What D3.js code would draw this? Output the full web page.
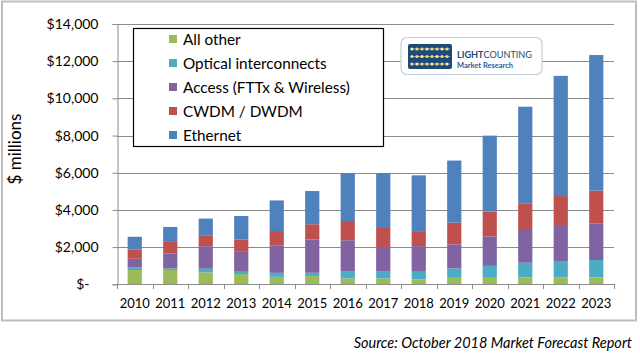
<!DOCTYPE html>
<html><head><meta charset="utf-8">
<script src="https://cdn.jsdelivr.net/npm/d3@7"></script>
<style>
html,body{margin:0;padding:0;background:#fff;}
svg{display:block;font-family:Lato,"Open Sans",sans-serif;}
</style></head>
<body><svg id="c" width="640" height="356"></svg>
<script>
const years = ["2010","2011","2012","2013","2014","2015","2016","2017","2018","2019","2020","2021","2022","2023"];
const allOther   = [770, 770, 640, 550, 400, 440, 320, 320, 270, 350, 350, 376, 376, 376];
const optical    = [145, 90, 195, 125, 215, 180, 390, 390, 405, 500, 640, 785, 840, 930];
const access     = [460, 800, 1215, 1070, 1485, 1790, 1660, 1270, 1380, 1300, 1590, 1760, 1970, 1975];
const cwdm       = [505, 620, 590, 665, 765, 820, 1035, 1050, 805, 1165, 1340, 1435, 1560, 1755];
const ethernet   = [675, 805, 895, 1265, 1645, 1785, 2575, 2950, 3000, 3340, 4075, 5195, 6465, 7295];
const seriesNames = ["All other","Optical interconnects","Access (FTTx & Wireless)","CWDM / DWDM","Ethernet"];
const seriesColors = ["#9BBB59","#4BACC6","#8064A2","#C0504D","#4F81BD"];
const yTicks = [0,2000,4000,6000,8000,10000,12000,14000];

const seriesData = [allOther, optical, access, cwdm, ethernet];
const rows = years.map((y,i)=>{const r={year:y}; seriesNames.forEach((n,k)=>r[n]=seriesData[k][i]); return r;});
const stacked = d3.stack().keys(seriesNames)(rows);

const svg = d3.select("#c");
// outer frame
svg.append("rect").attr("x",2).attr("y",1.5).attr("width",634).attr("height",319)
  .attr("fill","none").attr("stroke","#bdbdbd").attr("stroke-width",2);

const x = d3.scaleBand().domain(years).range([117,614]).paddingInner(0.6).paddingOuter(0.3);
const y = d3.scaleLinear().domain([0,14000]).range([284.3,24]);

// gridlines
svg.append("g").selectAll("line").data(yTicks.filter(d=>d>0)).join("line")
  .attr("x1",117).attr("x2",614).attr("y1",d=>Math.round(y(d))+0.5).attr("y2",d=>Math.round(y(d))+0.5)
  .attr("stroke","#8c8c8c").attr("stroke-width",1);

// y axis
const yAxis = d3.axisLeft(y).tickValues(yTicks).tickSize(5).tickPadding(14)
  .tickFormat(d=> d===0 ? "$-" : "$"+d3.format(",")(d));
const gy = svg.append("g").attr("transform","translate(117.5,0)").call(yAxis);
gy.select(".domain").attr("stroke","#8c8c8c");
gy.selectAll(".tick line").attr("stroke","#8c8c8c");
gy.selectAll(".tick text").attr("font-size",14).attr("fill","#000").attr("font-family","Lato")
  .attr("x",d=> d===0 ? -28 : -19);

// bars
svg.append("g").selectAll("g").data(stacked).join("g")
  .attr("fill",(d,i)=>seriesColors[i])
  .selectAll("rect").data(d=>d).join("rect")
  .attr("x",d=>x(d.data.year)).attr("width",x.bandwidth())
  .attr("y",d=>y(d[1])).attr("height",d=>y(d[0])-y(d[1]));

// x axis
const step = x.step();
const gx = svg.append("g");
gx.append("line").attr("x1",117).attr("x2",614).attr("y1",284.5).attr("y2",284.5).attr("stroke","#8c8c8c");
gx.selectAll("line.t").data(d3.range(years.length+1)).join("line").attr("class","t")
  .attr("x1",i=>Math.round(117+i*step)+0.5).attr("x2",i=>Math.round(117+i*step)+0.5)
  .attr("y1",284).attr("y2",289).attr("stroke","#8c8c8c");
gx.selectAll("text").data(years).join("text")
  .attr("x",d=>x(d)+x.bandwidth()/2).attr("y",308).attr("text-anchor","middle")
  .attr("font-size",13).attr("fill","#000").text(d=>d);

// y label
svg.append("text").attr("transform","translate(21,149) rotate(-90)").attr("text-anchor","middle")
  .attr("font-size",17).attr("fill","#000").text("$ millions");

// legend
const lg = svg.append("g");
lg.append("rect").attr("x",133.5).attr("y",28.5).attr("width",250).attr("height",118)
  .attr("fill","#fff").attr("stroke","#000").attr("stroke-width",1.2);
seriesNames.forEach((name,k)=>{
  const yy = 39 + k*24;
  lg.append("rect").attr("x",169).attr("y",yy-4).attr("width",8).attr("height",8).attr("fill",seriesColors[k]);
  lg.append("text").attr("x",183).attr("y",yy+5.5).attr("font-size",15.3).attr("fill","#000").text(name);
});

// logo
const lo = svg.append("g");
lo.append("rect").attr("x",401).attr("y",37.5).attr("width",141).attr("height",37).attr("rx",6)
  .attr("fill","#fff").attr("stroke","#c5cfdb").attr("stroke-width",1.2);
lo.append("rect").attr("x",408).attr("y",44).attr("width",44).attr("height",25).attr("rx",2).attr("fill","#1d4a78");
[49,56.5,64].forEach((cy,r)=>{
  lo.append("line").attr("x1",410).attr("x2",450).attr("y1",cy).attr("y2",cy).attr("stroke","#9fb3c8").attr("stroke-width",0.8);
  d3.range(8).forEach(i=>{
    lo.append("circle").attr("cx",412+i*5).attr("cy",cy).attr("r",1.6).attr("fill",((i+r)%3===0)?"#f5ecb0":"#f2d86a");
  });
});
lo.append("text").attr("x",457).attr("y",58).attr("font-size",9.3).attr("fill","#1d4a78")
  .attr("textLength",75).attr("lengthAdjust","spacingAndGlyphs")
  .html('<tspan font-weight="bold">LIGHT</tspan><tspan>COUNTING</tspan>');
lo.append("text").attr("x",457).attr("y",67.5).attr("font-size",8).attr("font-weight","bold").attr("fill","#2a5e91")
  .attr("textLength",56).attr("lengthAdjust","spacingAndGlyphs")
  .text("Market Research");

// source
svg.append("text").attr("x",632).attr("y",348).attr("text-anchor","end").attr("font-style","italic")
  .attr("font-size",14.5).attr("fill","#000").text("Source: October 2018 Market Forecast Report");
</script></body></html>
